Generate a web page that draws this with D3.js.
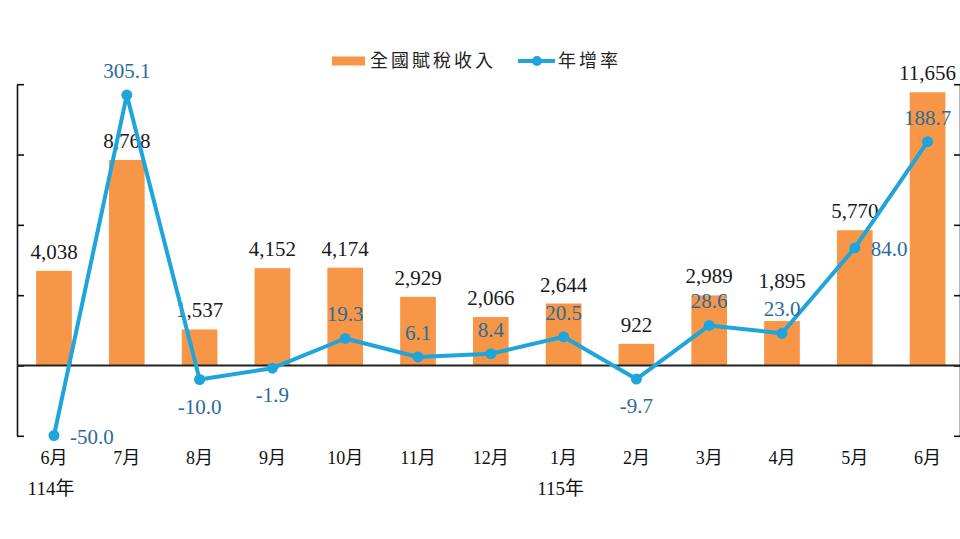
<!DOCTYPE html>
<html>
<head>
<meta charset="utf-8">
<script src="https://cdn.jsdelivr.net/npm/d3@7"></script>
<style>
  html, body { margin: 0; padding: 0; background: #fff; }
  svg { display: block; }
</style>
</head>
<body>
<div id="chart"></div>
<script>
// 全國賦稅收入 (億元) 與年增率 (%)
const months = ["6月", "7月", "8月", "9月", "10月", "11月", "12月", "1月", "2月", "3月", "4月", "5月", "6月"];
const years = [{ i: 0, label: "114年" }, { i: 7, label: "115年" }];
const revenue = [4038, 8768, 1537, 4152, 4174, 2929, 2066, 2644, 922, 2989, 1895, 5770, 11656];
const growth = [-50.0, 305.1, -10.0, -1.9, 19.3, 6.1, 8.4, 20.5, -9.7, 28.6, 23.0, 84.0, 188.7];
const growthPos = ["right", "above", "below", "below", "above", "above", "above", "above", "below", "above", "above", "right", "above"];
const leftTicks = [-3000, 0, 3000, 6000, 9000, 12000];

(function () {
  const W = 960, H = 539;
  const svg = d3.select("#chart").append("svg")
    .attr("width", W)
    .attr("height", H);

  const serif = "'Liberation Serif', 'Noto Sans CJK TC', serif";
  const barColor = "#f79646";
  const lineColor = "#1ea5dc";
  const rateColor = "#2a6b9c";

  const idx = months.map((d, i) => i);
  const x = d3.scaleBand()
    .domain(idx)
    .range([17.6, 964])
    .paddingInner(0.51)
    .paddingOuter(0.255);

  const yL = d3.scaleLinear().domain([-3000, 12000]).range([435.8, 84.2]);
  // the growth line in the source is drawn on a compressed scale above 100%
  const yR = d3.scaleLinear()
    .domain([-50, 0, 100, 200, 320])
    .range([435.5, 365.5, 225.5, 131, 90]);

  // bars
  svg.append("g").selectAll("rect")
    .data(revenue)
    .join("rect")
    .attr("x", (d, i) => x(i))
    .attr("y", d => yL(d))
    .attr("width", x.bandwidth())
    .attr("height", d => yL(0) - yL(d))
    .attr("fill", barColor);

  // left axis (no labels)
  const leftAxis = svg.append("g")
    .attr("transform", "translate(17,0)")
    .call(d3.axisRight(yL).tickValues(leftTicks).tickSize(7).tickSizeOuter(0).tickFormat(""));
  leftAxis.select(".domain").attr("stroke", "#111").attr("stroke-width", 1.6);
  leftAxis.selectAll(".tick line").attr("stroke", "#111").attr("stroke-width", 1.6);

  // right axis, line sits at the edge
  const rightAxis = svg.append("g")
    .attr("transform", "translate(960,0)")
    .call(d3.axisLeft(yL).tickValues(leftTicks).tickSize(6).tickSizeOuter(0).tickFormat(""));
  rightAxis.select(".domain").attr("stroke", "#111").attr("stroke-width", 1.6);
  rightAxis.selectAll(".tick line").attr("stroke", "#111").attr("stroke-width", 1.6);

  // zero line
  svg.append("line")
    .attr("x1", 17).attr("x2", 960)
    .attr("y1", yL(0)).attr("y2", yL(0))
    .attr("stroke", "#222")
    .attr("stroke-width", 1.8);

  // bar value labels (4月 label is lifted above the rate label, as in the source)
  const lift = { 10: 21 };
  svg.append("g").selectAll("text")
    .data(revenue)
    .join("text")
    .attr("x", (d, i) => x(i) + x.bandwidth() / 2)
    .attr("y", (d, i) => yL(d) - 12 - (lift[i] || 0))
    .attr("text-anchor", "middle")
    .attr("font-family", serif)
    .attr("font-size", 21)
    .attr("fill", "#1a1a1a")
    .text(d => d3.format(",")(d));

  // growth line
  const cx = i => x(i) + x.bandwidth() / 2;
  const line = d3.line()
    .x((d, i) => cx(i))
    .y(d => yR(d));

  svg.append("path")
    .datum(growth)
    .attr("d", line)
    .attr("fill", "none")
    .attr("stroke", lineColor)
    .attr("stroke-width", 4)
    .attr("stroke-linejoin", "round");

  svg.append("g").selectAll("circle")
    .data(growth)
    .join("circle")
    .attr("cx", (d, i) => cx(i))
    .attr("cy", d => yR(d))
    .attr("r", 5.5)
    .attr("fill", lineColor);

  // growth labels
  svg.append("g").selectAll("text")
    .data(growth)
    .join("text")
    .attr("x", (d, i) => growthPos[i] === "right" ? cx(i) + 16 : cx(i))
    .attr("y", (d, i) => {
      const p = growthPos[i];
      if (p === "above") return yR(d) - 17;
      if (p === "below") return yR(d) + 34;
      return yR(d) + 8;
    })
    .attr("text-anchor", (d, i) => growthPos[i] === "right" ? "start" : "middle")
    .attr("font-family", serif)
    .attr("font-size", 21)
    .attr("fill", rateColor)
    .text(d => d.toFixed(1));

  // month labels
  svg.append("g").selectAll("text")
    .data(months)
    .join("text")
    .attr("x", (d, i) => cx(i))
    .attr("y", 464)
    .attr("text-anchor", "middle")
    .attr("font-family", serif)
    .attr("font-size", 18)
    .attr("fill", "#111")
    .text(d => d);

  svg.append("g").selectAll("text")
    .data(years)
    .join("text")
    .attr("x", d => cx(d.i) - 3)
    .attr("y", 495)
    .attr("text-anchor", "middle")
    .attr("font-family", serif)
    .attr("font-size", 19)
    .attr("fill", "#111")
    .text(d => d.label);

  // legend
  const lg = svg.append("g");
  lg.append("rect")
    .attr("x", 332).attr("y", 56.5)
    .attr("width", 33).attr("height", 9)
    .attr("fill", barColor);
  lg.append("text")
    .attr("x", 370).attr("y", 67)
    .attr("font-family", serif)
    .attr("font-size", 18)
    .attr("letter-spacing", 3)
    .attr("fill", "#222")
    .text("全國賦稅收入");
  lg.append("line")
    .attr("x1", 518).attr("x2", 555)
    .attr("y1", 61).attr("y2", 61)
    .attr("stroke", lineColor)
    .attr("stroke-width", 4);
  lg.append("circle")
    .attr("cx", 537).attr("cy", 61).attr("r", 5)
    .attr("fill", lineColor);
  lg.append("text")
    .attr("x", 558).attr("y", 67)
    .attr("font-family", serif)
    .attr("font-size", 18)
    .attr("letter-spacing", 3)
    .attr("fill", "#222")
    .text("年增率");
})();
</script>
</body>
</html>
